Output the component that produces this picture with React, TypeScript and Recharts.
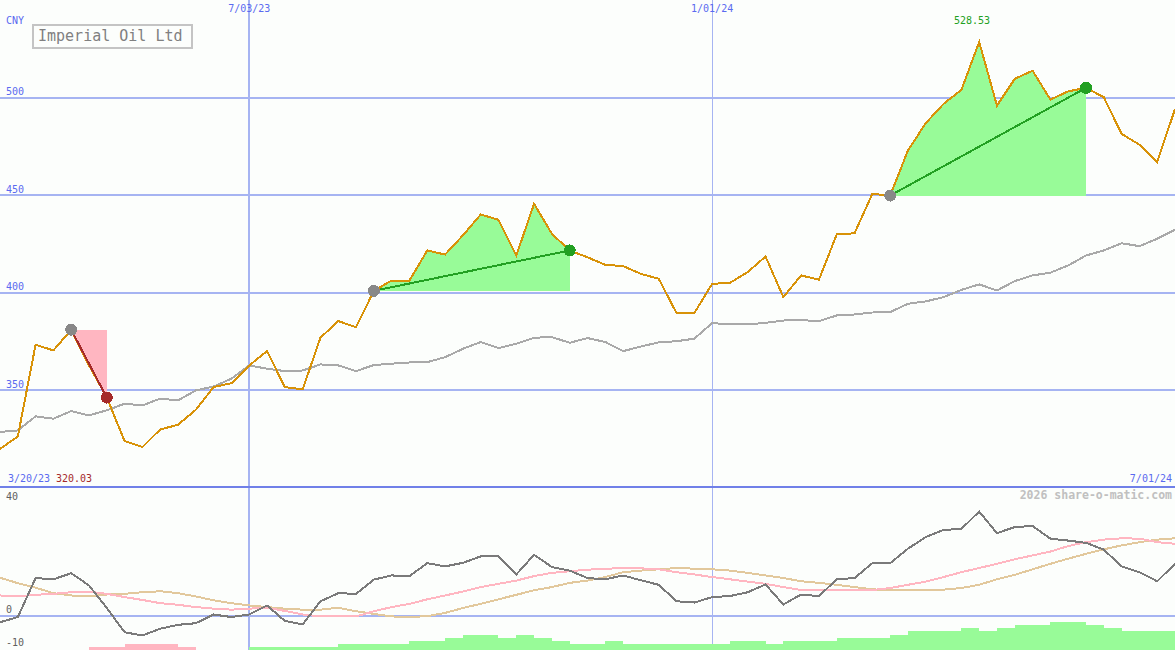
import { ComposedChart, Line, Area, XAxis, YAxis, CartesianGrid, ReferenceLine, ReferenceDot } from 'recharts';

// weekly closes, 3/20/23 .. 7/01/24
const price = [
  320.03, 326.4, 373.4, 370.5, 381.1, 362.8, 346.3, 324.0, 321.0, 330.0,
  332.4, 340.1, 351.7, 353.7, 362.8, 370.1, 351.7, 350.5, 377.0, 385.5,
  382.4, 401.0, 406.3, 406.3, 421.7, 419.6, 429.4, 440.1, 437.4, 419.1,
  445.6, 430.2, 421.7, 418.2, 414.3, 413.7, 409.7, 407.2, 389.6, 389.6,
  404.6, 405.1, 410.6, 418.6, 397.8, 408.9, 406.7, 429.9, 430.5, 450.7,
  449.8, 472.9, 486.9, 496.8, 503.9, 528.53, 495.9, 509.6, 513.8, 499.0,
  503.2, 505.0, 500.2, 481.4, 475.9, 466.9, 494.2,
];
const avg = [
  328.7, 329.5, 336.7, 335.5, 339.4, 337.2, 339.8, 343.2, 342.3, 345.8,
  344.9, 350.0, 352.0, 356.0, 362.8, 361.1, 359.9, 360.2, 363.3, 362.8,
  359.9, 363.0, 363.7, 364.3, 364.5, 367.0, 371.3, 374.8, 371.7, 373.9,
  377.0, 377.3, 374.4, 376.8, 374.8, 370.1, 372.5, 374.6, 375.2, 376.5,
  384.5, 383.8, 383.8, 384.6, 385.8, 386.0, 385.5, 388.4, 388.9, 389.9,
  390.1, 394.4, 395.6, 397.8, 401.5, 404.3, 401.2, 406.0, 408.9, 410.3,
  414.0, 419.1, 421.7, 425.4, 423.9, 427.7, 432.3,
];
const momentum = [
  -1.9, -0.3, 11.8, 11.4, 13.3, 9.5, 2.5, -5.0, -6.0, -3.9,
  -2.7, -2.2, 0.5, -0.3, 0.5, 3.3, -1.5, -2.6, 4.6, 7.1,
  6.9, 11.3, 12.6, 12.4, 16.4, 15.4, 16.5, 18.5, 18.5, 12.9,
  19.0, 15.2, 14.1, 11.8, 11.4, 12.6, 11.1, 9.7, 4.6, 4.2,
  5.9, 6.2, 7.4, 9.8, 3.6, 6.7, 6.2, 11.4, 11.8, 16.4,
  16.4, 20.9, 24.5, 26.7, 27.0, 32.4, 25.7, 27.6, 27.9, 24.0,
  23.4, 22.7, 20.6, 15.4, 13.6, 10.8, 16.2,
];
const signal = [
  6.4, 6.1, 6.6, 6.9, 7.4, 7.6, 6.9, 5.9, 5.0, 4.0,
  3.5, 2.8, 2.3, 2.0, 2.3, 2.6, 1.6, 0.5, -0.1, -0.1,
  -0.1, 1.5, 2.8, 3.8, 5.2, 6.4, 7.6, 9.0, 10.0, 11.0,
  12.4, 13.4, 13.9, 14.4, 14.6, 15.0, 14.8, 14.5, 13.6, 12.9,
  12.1, 11.4, 10.7, 10.0, 9.0, 8.1, 8.0, 8.0, 8.0, 8.1,
  8.7, 9.7, 10.7, 12.1, 13.6, 14.9, 16.2, 17.6, 18.8, 20.0,
  21.7, 22.9, 23.7, 24.1, 24.0, 22.9, 22.4,
];
const slow = [
  11.9, 10.2, 8.8, 7.1, 6.4, 6.1, 6.7, 6.9, 7.4, 7.7,
  7.1, 6.1, 4.9, 4.0, 3.3, 2.8, 2.3, 2.0, 2.0, 2.6,
  1.5, 0.7, -0.1, -0.3, 0.0, 1.0, 2.5, 3.8, 5.2, 6.6,
  8.0, 9.0, 10.3, 11.0, 12.1, 13.6, 14.1, 14.5, 14.9, 14.7,
  14.5, 14.1, 13.4, 12.6, 11.8, 10.8, 10.3, 9.7, 9.0, 8.3,
  8.0, 8.0, 8.0, 8.2, 8.7, 9.7, 11.4, 12.8, 14.5, 16.2,
  17.8, 19.3, 20.7, 21.9, 22.9, 23.7, 24.1,
];
// histogram steps at the foot of the lower panel
const pinkBarsFrom = 5;
const pinkBars = [1, 1, 2, 2, 2, 1, 1];
const greenBarsFrom = 14;
const greenBars = [
  1, 1, 1, 1, 1, 2, 2, 2, 2, 3, 3, 4, 5, 5, 4, 5, 4, 3, 2, 2,
  3, 2, 2, 2, 2, 2, 2, 3, 3, 2, 3, 3, 3, 4, 4, 4, 5, 6, 6, 6,
  7, 6, 7, 8, 8, 9, 9, 8, 7, 6, 6, 6, 6,
];
// runs marked on the price panel (start index, end index)
const runFrom = [4, 21, 50];
const runTo = [6, 32, 61];

const dateTicks = [14, 40];
const dateLabels = ['7/03/23', '1/01/24'];
const priceTicks = [350, 400, 450, 500];
const oscTicks = [-10, 0, 40];
const oscDomain = [-10.5, 40];
const firstDate = '3/20/23';
const lastDate = '7/01/24';

const W = 1175;
const TOP_H = 488;
const BOT_TOP = 487;
const BOT_H = 163;
const FONT = '"DejaVu Sans Mono", monospace';
const BLUE = '#5a6af0';
const GRID = '#a6b4f2';
const GREEN = '#22a022';
const BROWN = '#a52a2a';

const topRows = price.map((p, i) => {
  const k = runFrom.findIndex((f, j) => i >= f && i <= runTo[j]);
  const base = k >= 0 ? price[runFrom[k]] : null;
  const gain = k >= 0 && price[runTo[k]] > price[runFrom[k]];
  return {
    i,
    price: p,
    avg: avg[i],
    gainBand: k >= 0 && gain ? [base, p] : null,
    lossBand: k >= 0 && !gain ? [base, p] : null,
  };
});

const botRows = momentum.map((m, i) => ({
  i,
  momentum: m,
  signal: signal[i],
  slow: slow[i],
  pinkBar: i >= pinkBarsFrom && i < pinkBarsFrom + pinkBars.length ? pinkBars[i - pinkBarsFrom] : null,
  greenBar: i >= greenBarsFrom && i < greenBarsFrom + greenBars.length ? greenBars[i - greenBarsFrom] : null,
}));

const maxIdx = price.indexOf(Math.max(...price));

const Txt = ({ x, y, color, size = 10, right, bold, children }: any) => (
  <div
    style={{
      position: 'absolute',
      top: y - size * 0.48,
      ...(right ? { right: W - x } : { left: x }),
      fontFamily: FONT,
      fontSize: size,
      lineHeight: `${size}px`,
      color,
      fontWeight: bold ? 'bold' : 'normal',
      whiteSpace: 'nowrap',
    }}
  >
    {children}
  </div>
);

// label centre for an oscillator tick: just above its level, kept inside the panel
const oscLabelY = (v: number) => {
  const y = BOT_TOP + ((oscDomain[1] - v) / (oscDomain[1] - oscDomain[0])) * BOT_H - 6;
  return Math.max(y, BOT_TOP + 9.5);
};

const priceTick = ({ x, y, payload }: any) => (
  <text x={x} y={y - 6} fill={BLUE} fontSize={10} fontFamily={FONT} dominantBaseline="central">
    {payload.value}
  </text>
);

const dateTick = ({ x, y, payload }: any) => (
  <text x={x} y={y} fill={BLUE} fontSize={10} fontFamily={FONT} textAnchor="middle" dominantBaseline="hanging">
    {dateLabels[dateTicks.indexOf(payload.value)]}
  </text>
);

export default function App() {
  return (
    <div
      className="pix"
      style={{ position: 'absolute', left: 0, top: 0, width: W, height: 650, background: '#fcfefc', overflow: 'hidden' }}
    >
      <style>{`.pix svg path, .pix svg line, .pix svg circle { shape-rendering: crispEdges; }`}</style>

      <div style={{ position: 'absolute', left: 0, top: 0 }}>
        <ComposedChart width={W} height={TOP_H} data={topRows} margin={{ top: 0, right: 0, bottom: 0, left: 0 }}>
          <CartesianGrid horizontalValues={priceTicks} vertical={false} stroke={GRID} strokeWidth={2} />
          <CartesianGrid horizontal={false} verticalValues={[dateTicks[0]]} stroke={GRID} strokeWidth={2} />
          <CartesianGrid horizontal={false} verticalValues={[dateTicks[1]]} stroke={GRID} strokeWidth={1} />
          <XAxis
            type="number"
            dataKey="i"
            domain={[0, price.length - 1]}
            orientation="top"
            mirror
            ticks={dateTicks}
            interval={0}
            tick={dateTick}
            tickSize={0}
            tickMargin={5}
            axisLine={false}
            tickLine={false}
          />
          <YAxis
            domain={[300, 550]}
            ticks={priceTicks}
            interval={0}
            mirror
            tick={priceTick}
            tickSize={0}
            tickMargin={6}
            axisLine={false}
            tickLine={false}
            allowDataOverflow
          />
          <Area dataKey="gainBand" stroke="none" fill="#98fb98" fillOpacity={1} activeDot={false} isAnimationActive={false} />
          <Area dataKey="lossBand" stroke="none" fill="#ffb6c1" fillOpacity={1} activeDot={false} isAnimationActive={false} />
          <Line dataKey="avg" stroke="#a9a9a9" strokeWidth={2} dot={false} activeDot={false} isAnimationActive={false} />
          <Line dataKey="price" stroke="#d89208" strokeWidth={2} dot={false} activeDot={false} isAnimationActive={false} />
          {runFrom.map((f, j) => {
            const t = runTo[j];
            const gain = price[t] > price[f];
            const col = gain ? GREEN : BROWN;
            return [
              <ReferenceLine
                key={`s${j}`}
                segment={[{ x: f, y: price[f] }, { x: t, y: price[t] }]}
                stroke={col}
                strokeWidth={2}
              />,
              <ReferenceDot key={`a${j}`} x={f} y={price[f]} r={6} fill="#888888" stroke="none" />,
              <ReferenceDot key={`b${j}`} x={t} y={price[t]} r={6} fill={col} stroke="none" />,
            ];
          })}
        </ComposedChart>
      </div>

      <div style={{ position: 'absolute', left: 0, top: BOT_TOP }}>
        <ComposedChart width={W} height={BOT_H} data={botRows} margin={{ top: 0, right: 0, bottom: 0, left: 0 }}>
          <CartesianGrid yAxisId="osc" horizontalValues={[0]} vertical={false} stroke={GRID} strokeWidth={2} />
          <CartesianGrid yAxisId="osc" horizontal={false} verticalValues={[dateTicks[0]]} stroke={GRID} strokeWidth={2} />
          <CartesianGrid yAxisId="osc" horizontal={false} verticalValues={[dateTicks[1]]} stroke={GRID} strokeWidth={1} />
          <XAxis type="number" dataKey="i" domain={[0, price.length - 1]} hide />
          <YAxis yAxisId="osc" domain={oscDomain} ticks={oscTicks} hide allowDataOverflow />
          <YAxis yAxisId="bars" domain={[0, 52.6]} hide />
          <Area yAxisId="bars" dataKey="pinkBar" type="stepAfter" stroke="none" fill="#ffb6c1" fillOpacity={1} activeDot={false} isAnimationActive={false} />
          <Area yAxisId="bars" dataKey="greenBar" type="stepAfter" stroke="none" fill="#98fb98" fillOpacity={1} activeDot={false} isAnimationActive={false} />
          <Line yAxisId="osc" dataKey="slow" stroke="#e2c89c" strokeWidth={2} dot={false} activeDot={false} isAnimationActive={false} />
          <Line yAxisId="osc" dataKey="signal" stroke="#ffb6c1" strokeWidth={2} dot={false} activeDot={false} isAnimationActive={false} />
          <Line yAxisId="osc" dataKey="momentum" stroke="#7a7a7a" strokeWidth={2} dot={false} activeDot={false} isAnimationActive={false} />
        </ComposedChart>
      </div>

      <div style={{ position: 'absolute', left: 0, top: 486, width: W, height: 2, background: '#7080e8' }} />

      {oscTicks.map((v) => (
        <Txt key={v} x={6} y={oscLabelY(v)} color="#606060">{v}</Txt>
      ))}

      <Txt x={6} y={21} color={BLUE}>CNY</Txt>
      <div
        style={{
          position: 'absolute',
          left: 32,
          top: 24,
          width: 153,
          height: 21,
          border: '2px solid #c4c4c4',
          fontFamily: FONT,
          fontSize: 15,
          lineHeight: '21px',
          color: '#808080',
          paddingLeft: 4,
          boxSizing: 'content-box',
          whiteSpace: 'nowrap',
        }}
      >
        Imperial Oil Ltd
      </div>
      <Txt x={954} y={21} color={GREEN}>{price[maxIdx].toFixed(2)}</Txt>
      <Txt x={8} y={479} color={BLUE}>{firstDate}</Txt>
      <Txt x={56} y={479} color={BROWN}>{price[0].toFixed(2)}</Txt>
      <Txt x={1172} y={479} color={BLUE} right>{lastDate}</Txt>
      <Txt x={1172} y={496} color="#c0c0c0" size={11.5} right bold>2026 share-o-matic.com</Txt>
    </div>
  );
}
